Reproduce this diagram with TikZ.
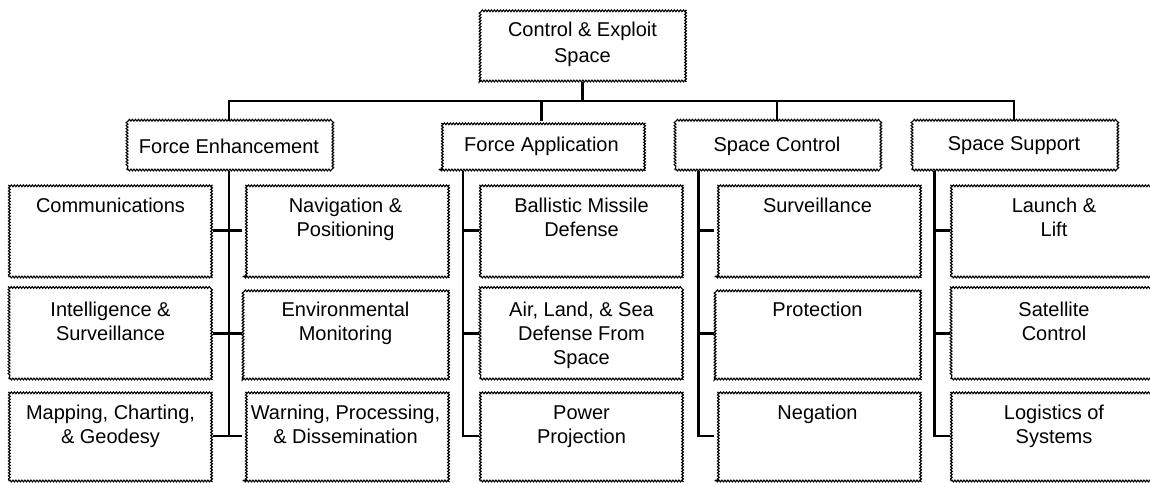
\documentclass[tikz,border=0pt]{standalone}
\usepackage{fontspec}
\setmainfont{Liberation Sans}
\usetikzlibrary{decorations.pathmorphing}
\newcommand{\bxt}[3]{\begin{minipage}[t][#1][t]{#2}\centering\rule{0pt}{28pt}#3\end{minipage}}
\begin{document}
\begin{tikzpicture}[x=1pt,y=-1pt,
  box/.style={draw, line width=1.1pt, decorate,
    decoration={snake, segment length=3pt, amplitude=0.9pt},
    inner sep=0pt, font=\fontsize{20}{24}\selectfont},
  conn/.style={line width=2.5pt}]
\useasboundingbox (0,0) rectangle (1150,482);
% top
\node[box, minimum width=205pt, minimum height=73pt, align=center,
  font=\fontsize{20}{26}\selectfont] (top) at (582.5,44.5) {Control \& Exploit\\Space};
% second level
\node[box, minimum width=204pt, minimum height=48pt] (fe) at (229,146) {Force Enhancement};
\node[box, minimum width=205pt, minimum height=48pt] (fa) at (541.5,146) {Force Application};
\node[box, minimum width=204pt, minimum height=48pt] (sc) at (777,146) {Space Control};
\node[box, minimum width=204pt, minimum height=48pt] (ss) at (1014,146) {Space Support};
% Force Enhancement children
\node[box] (comm)  at (110.5,230.5) {\bxt{93pt}{203pt}{Communications}};
\node[box] (nav)   at (345.5,230.5) {\bxt{93pt}{205pt}{Navigation \&\\Positioning}};
\node[box] (intel) at (110.5,333.5) {\bxt{91pt}{203pt}{Intelligence \&\\Surveillance}};
\node[box] (env)   at (345.5,333.5) {\bxt{91pt}{205pt}{Environmental\\Monitoring}};
\node[box] (mapc)  at (110.5,436) {\bxt{90pt}{203pt}{Mapping, Charting,\\\& Geodesy}};
\node[box] (warn)  at (345.5,436) {\bxt{90pt}{205pt}{Warning, Processing,\\\& Dissemination}};
% Force Application children
\node[box] (bmd)  at (581.5,230.5) {\bxt{93pt}{203pt}{Ballistic Missile\\Defense}};
\node[box] (alsd) at (581.5,333.5) {\bxt{91pt}{203pt}{Air, Land, \& Sea\\Defense From\\Space}};
\node[box] (pp)   at (581.5,436) {\bxt{90pt}{203pt}{Power\\Projection}};
% Space Control children
\node[box] (surv) at (817.5,230.5) {\bxt{93pt}{205pt}{Surveillance}};
\node[box] (prot) at (817.5,333.5) {\bxt{91pt}{205pt}{Protection}};
\node[box] (neg)  at (817.5,436) {\bxt{90pt}{205pt}{Negation}};
% Space Support children
\node[box] (ll)  at (1054,230.5) {\bxt{93pt}{206pt}{Launch \&\\Lift}};
\node[box] (satc) at (1054,333.5) {\bxt{91pt}{206pt}{Satellite\\Control}};
\node[box] (log) at (1054,436) {\bxt{90pt}{206pt}{Logistics of\\Systems}};
% bus
\coordinate (busL) at (229,101);
\coordinate (busR) at (1014,101);
\draw[conn] (fe.north) -- (busL) -- (busR) -- (ss.north);
\draw[conn] (top.south) -- (top.south |- busL);
\draw[conn] (fa.north) -- (fa.north |- busL);
\draw[conn] (sc.north) -- (sc.north |- busL);
% FE branch
\draw[conn] (fe.south) -- (fe.south |- mapc.east);
\draw[conn] (comm.east) -- (nav.west);
\draw[conn] (intel.east) -- (env.west);
\draw[conn] (mapc.east) -- (warn.west);
% FA branch
\draw[conn] ([xshift=24.5pt]fa.south west) |- (pp.west);
\draw[conn] (bmd.west) -- ++(-16.5,0);
\draw[conn] (alsd.west) -- ++(-16.5,0);
% SC branch
\draw[conn] ([xshift=24pt]sc.south west) |- (neg.west);
\draw[conn] (surv.west) -- ++(-16,0);
\draw[conn] (prot.west) -- ++(-16,0);
% SS branch
\draw[conn] ([xshift=23pt]ss.south west) |- (log.west);
\draw[conn] (ll.west) -- ++(-16,0);
\draw[conn] (satc.west) -- ++(-16,0);
\end{tikzpicture}
\end{document}
